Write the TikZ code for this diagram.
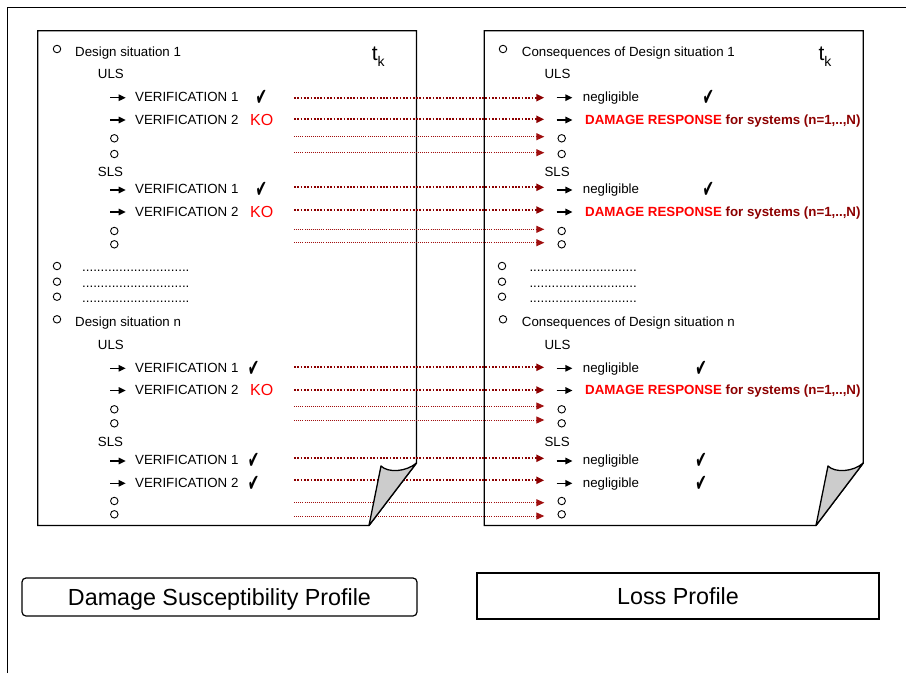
\documentclass[tikz,border=0pt]{standalone}
\usepackage{fontspec}
\setmainfont{Liberation Sans}
\newfontfamily\symfont{DejaVu Sans}
\usetikzlibrary{arrows.meta}

\definecolor{darkred}{RGB}{140,0,0}
\definecolor{linered}{RGB}{160,15,15}
\newcommand{\okmark}{{\symfont\scalebox{1.05}[1.85]{✔}}}
\newcommand{\dotrow}{.............................}
\tikzset{barrow/.pic={\draw[line width=1.3pt,-{Triangle[length=7pt,width=6.5pt]}] (0,0) -- (15.7,0);}}

\begin{document}
\begin{tikzpicture}[x=1pt, y=-1pt,
  txt/.style={anchor=base west, inner sep=0pt, font=\fontsize{13.3}{15}\selectfont},
  bold/.style={txt, font=\fontsize{13.3}{15}\selectfont\bfseries},
  ko/.style={anchor=base west, inner sep=0pt, text=red, font=\fontsize{16}{18}\selectfont},
  chk/.style={inner sep=0pt, font=\fontsize{13}{15}\selectfont},
  tk/.style={anchor=base west, inner sep=0pt, font=\fontsize{21}{24}\selectfont},
  bul/.style={circle, draw, line width=0.9pt, minimum size=7.5pt, inner sep=0pt},
  page/.style={draw, line width=1.3pt},
  curl/.style={draw, fill=gray!40, line width=1.3pt, line join=round},
  vdot/.style={darkred, line width=2pt, dash pattern=on 1.7pt off 1.6pt, -{Triangle[length=8pt,width=7pt]}},
  cdot/.style={linered, line width=1pt, dash pattern=on 1pt off 1.1pt, -{Triangle[length=8pt,width=7pt]}},
  profile/.style={draw, minimum height=38pt, font=\fontsize{23.3}{26}\selectfont, text height=16.7pt, text depth=0pt}]

\useasboundingbox (0,0) rectangle (906,673);

\draw[line width=1.4pt] (7.3,673) -- (7.3,7.3) -- (906,7.3);

\draw[page] (37.7,30.7) -- (416.5,30.7) -- (416.5,463) -- (369,525.5) -- (37.7,525.5) -- cycle;
\draw[page] (484.3,30.7) -- (863.3,30.7) -- (863.3,463) -- (816,525.5) -- (484.3,525.5) -- cycle;


\node[bul] (dsb1) at (57,49) {};
\node[txt] (ds1) at (75,56.7) {Design situation 1};
\node[tk] (tkL) at (371.7,60) {t\raisebox{-6.7pt}{\fontsize{14}{16}\selectfont k}};
\node[txt] (ulsL1) at (97.7,78.3) {ULS};
\node[txt] (v11) at (135,101.3) {VERIFICATION 1};
\node[chk] (ok11) at (261.3,98) {\okmark};
\node[txt] (v12) at (135,124) {VERIFICATION 2};
\node[ko] (ko12) at (250,125.5) {KO};
\node[txt] (slsL1) at (97.7,176) {SLS};
\node[txt] (v13) at (135,193.7) {VERIFICATION 1};
\node[chk] (ok13) at (261.3,190.4) {\okmark};
\node[txt] (v14) at (135,216) {VERIFICATION 2};
\node[ko] (ko14) at (250,217.5) {KO};

\node[bul] (dsbn) at (57,319.3) {};
\node[txt] (dsn) at (75,326.7) {Design situation n};
\node[txt] (ulsLn) at (97.7,349.3) {ULS};
\node[txt] (vn1) at (135,372) {VERIFICATION 1};
\node[chk] (okn1) at (253.5,368.7) {\okmark};
\node[txt] (vn2) at (135,394.2) {VERIFICATION 2};
\node[ko] (kon2) at (250,395.7) {KO};
\node[txt] (slsLn) at (97.7,446) {SLS};
\node[txt] (vn3) at (135,464.7) {VERIFICATION 1};
\node[chk] (okn3) at (253.5,461.4) {\okmark};
\node[txt] (vn4) at (135,487) {VERIFICATION 2};
\node[chk] (okn4) at (253.5,483.7) {\okmark};


\node[bul] (cdb1) at (503,49) {};
\node[txt] (cd1) at (521.7,56.7) {Consequences of Design situation 1};
\node[tk] (tkR) at (818.3,60) {t\raisebox{-6.7pt}{\fontsize{14}{16}\selectfont k}};
\node[txt] (ulsR1) at (544.3,78.3) {ULS};
\node[txt] (r11) at (582.7,101.3) {negligible};
\node[chk] (okr11) at (708.3,98) {\okmark};
\node[bold] (r12) at (585,124) {\textcolor{red}{DAMAGE RESPONSE} \textcolor{darkred}{for systems (n=1,..,N)}};
\node[txt] (slsR1) at (544.3,176) {SLS};
\node[txt] (r13) at (582.7,193.7) {negligible};
\node[chk] (okr13) at (708.3,190.4) {\okmark};
\node[bold] (r14) at (585,216) {\textcolor{red}{DAMAGE RESPONSE} \textcolor{darkred}{for systems (n=1,..,N)}};

\node[bul] (cdbn) at (503,319.3) {};
\node[txt] (cdn) at (521.7,326.7) {Consequences of Design situation n};
\node[txt] (ulsRn) at (544.3,349.3) {ULS};
\node[txt] (rn1) at (582.7,372) {negligible};
\node[chk] (okrn1) at (701,368.7) {\okmark};
\node[bold] (rn2) at (585,394.2) {\textcolor{red}{DAMAGE RESPONSE} \textcolor{darkred}{for systems (n=1,..,N)}};
\node[txt] (slsRn) at (544.3,446) {SLS};
\node[txt] (rn3) at (582.7,464.7) {negligible};
\node[chk] (okrn3) at (701,461.4) {\okmark};
\node[txt] (rn4) at (582.7,487) {negligible};
\node[chk] (okrn4) at (701,483.7) {\okmark};


\foreach \y [count=\i] in {138.3,154,231,244.3,409.3,423.3,501,514.3} {
  \node[bul] (cl\i) at (114.3,\y) {};
  \node[bul] (cr\i) at (561.7,\y) {};
}

\foreach \y [count=\i] in {266,281.7,296.7} {
  \node[bul] (el\i) at (57,\y) {};
  \node[txt] (fl\i) at (82,\y+5.5) {\dotrow};
  \node[bul] (er\i) at (502,\y) {};
  \node[txt] (fr\i) at (529.3,\y+5.5) {\dotrow};
}

\foreach \y in {97.7,120,190,212,368.3,390.5,461,483.3} {
  \pic at (110,\y) {barrow};
  \pic at (556.7,\y) {barrow};
}


\foreach \y [count=\i] in {97.7,119.3,187.3,210,367.3,390,458.3,480.3} {
  \coordinate (vs\i) at (294,\y);
  \coordinate (ve\i) at (544.3,\y);
  \draw[vdot] (vs\i) -- (ve\i);
}
\foreach \y [count=\i] in {136.7,152.7,229.3,242.7,406,420,502.7,516} {
  \coordinate (cs\i) at (294,\y);
  \coordinate (ce\i) at (544.3,\y);
  \draw[cdot] (cs\i) -- (ce\i);
}


\draw[curl] (369,525.5) -- (381,466) .. controls (388,473) and (406,472) .. (416.5,463) -- cycle;
\draw[curl] (816,525.5) -- (828,466) .. controls (835,473) and (853,472) .. (863.3,463) -- cycle;


\node[profile, rounded corners=4pt, line width=1.2pt, minimum width=395pt] (dsp) at (219.5,597) {Damage Susceptibility Profile};
\node[profile, line width=2pt, minimum width=402pt, minimum height=46pt] (lp) at (678,596) {Loss Profile};

\end{tikzpicture}
\end{document}
